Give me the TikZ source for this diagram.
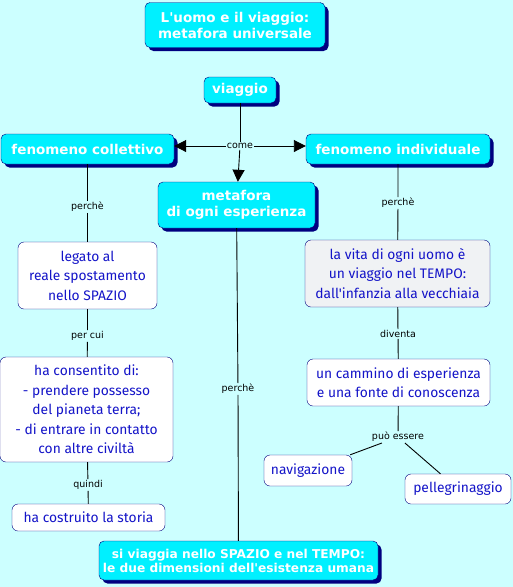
\documentclass[tikz,border=0pt]{standalone}
\usepackage{fontspec}
\usetikzlibrary{arrows.meta,shadows}
\newfontfamily\conceptfont{DejaVu Sans}
\newfontfamily\ideafont{Fira Sans}
\definecolor{bgcyan}{HTML}{CCFFFF}
\definecolor{conceptcyan}{HTML}{00F0FF}
\definecolor{shadownavy}{HTML}{000080}
\definecolor{textblue}{HTML}{1414C8}
\definecolor{paleslate}{HTML}{F0F2F4}
\begin{document}
\begin{tikzpicture}[x=1pt,y=-1pt,
	concept/.style={draw=shadownavy,fill=conceptcyan,rounded corners=5pt,text=white,align=center,inner sep=1pt,
		font=\conceptfont\bfseries\fontsize{13.5}{16}\selectfont,
		drop shadow={shadow xshift=3.5pt,shadow yshift=-3.5pt,fill=shadownavy,opacity=1}},
	idea/.style={draw=shadownavy,fill=white,rounded corners=6pt,text=textblue,align=center,inner sep=1pt,
		font=\ideafont\fontsize{13.8}{19.5}\selectfont},
	linkword/.style={fill=bgcyan,inner sep=1pt,font=\conceptfont\fontsize{9.5}{11}\selectfont},
	link/.style={draw=black,line width=0.9pt},
	arrowlink/.style={link,-{Triangle[length=12pt,width=12pt]}}]
	\fill[bgcyan] (0,0) rectangle (513,587);
	\useasboundingbox (0,0) rectangle (513,587);
	% concetti principali
	\node[concept,minimum width=180,minimum height=45] (title) at (235,25) {L'uomo e il viaggio:\\metafora universale};
	\node[concept,minimum width=72,minimum height=26] (viaggio) at (240,90) {viaggio};
	\node[concept,minimum width=173,minimum height=30] (fcoll) at (87.5,149) {fenomeno collettivo};
	\node[concept,minimum width=184,minimum height=30] (find) at (398,149) {fenomeno individuale};
	\node[concept,minimum width=157,minimum height=46] (metafora) at (236.5,205) {metafora\\di ogni esperienza};
	\node[concept,minimum width=279,minimum height=39,font=\conceptfont\bfseries\fontsize{12.2}{14}\selectfont] (spaztemp) at (238.5,560.5) {si viaggia nello SPAZIO e nel TEMPO:\\le due dimensioni dell'esistenza umana};
	% ramo collettivo
	\node[idea,minimum width=139,minimum height=67] (legato) at (87.5,275.5) {legato al\\reale spostamento\\nello SPAZIO};
	\node[idea,minimum width=173,minimum height=105] (consent) at (86.5,409.5) {ha consentito di:\\- prendere possesso\\del pianeta terra;\\- di entrare in contatto\\con altre civiltà};
	\node[idea,minimum width=153,minimum height=27] (storia) at (88.5,517.5) {ha costruito la storia};
	% ramo individuale
	\node[idea,fill=paleslate,minimum width=185,minimum height=67] (vita) at (397.5,273.5) {la vita di ogni uomo è\\un viaggio nel TEMPO:\\dall'infanzia alla vecchiaia};
	\node[idea,minimum width=183,minimum height=47] (cammino) at (398.5,382.5) {un cammino di esperienza\\e una fonte di conoscenza};
	\node[idea,minimum width=88,minimum height=31] (navig) at (308,470.5) {navigazione};
	\node[idea,minimum width=106,minimum height=30] (pelleg) at (458,489) {pellegrinaggio};
	% parole legame
	\node[linkword] (come) at (240,146) {come};
	\node[linkword] (perche1) at (87.5,207) {perchè};
	\node[linkword] (percui) at (87.5,336) {per cui};
	\node[linkword] (quindi) at (88,485) {quindi};
	\node[linkword] (perche2) at (238,389) {perchè};
	\node[linkword] (perche3) at (398,203) {perchè};
	\node[linkword] (diventa) at (398,334) {diventa};
	\node[linkword] (puo) at (398,437) {può essere};
	% collegamenti
	\draw[link] (viaggio) -- (come);
	\draw[arrowlink] (come) -- (fcoll.east |- come);
	\draw[arrowlink] (come) -- (find.west |- come);
	\draw[arrowlink] (come) -- (metafora);
	\draw[link] (fcoll) -- (perche1) -- (legato);
	\draw[link] (legato) -- (percui) -- (consent);
	\draw[link] (consent) -- (quindi) -- (storia);
	\draw[link] (metafora) -- (perche2) -- (spaztemp);
	\draw[link] (find) -- (perche3) -- (vita);
	\draw[link] (vita) -- (diventa) -- (cammino);
	\draw[link] (cammino) -- (puo);
	\draw[link] (puo) -- (navig);
	\draw[link] (puo) -- (pelleg);
\end{tikzpicture}
\end{document}
